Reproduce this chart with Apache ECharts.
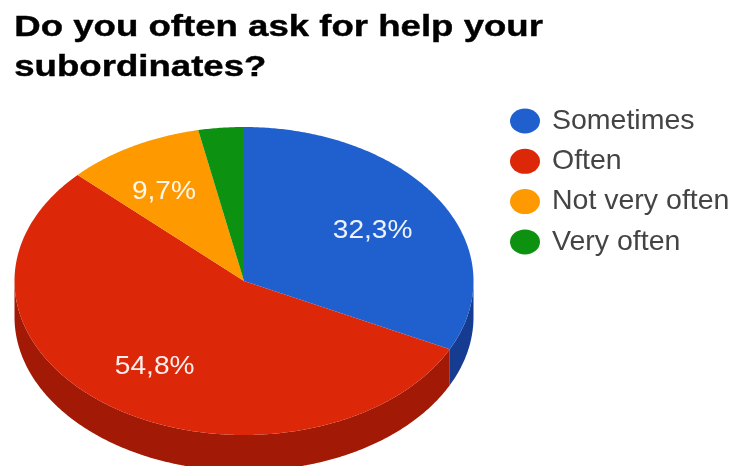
<!DOCTYPE html>
<html>
<head>
<meta charset="utf-8">
<style>html,body{margin:0;padding:0;background:#fff;overflow:hidden}#chart{width:732px;height:466px}</style>
<script src="https://cdn.jsdelivr.net/npm/echarts@6/dist/echarts.min.js"></script>
</head>
<body>
<div id="chart"></div>
<script>
// Survey answers, share of respondents in percent
const categories = ['Sometimes', 'Often', 'Not very often', 'Very often'];
const shares = [32.3, 54.8, 9.7, 3.2];
const topColors = ['#205fce', '#dc2709', '#ff9900', '#0c9210'];
const sideColors = ['#153c90', '#a21906', '#b36b00', '#086a0b'];
const titleLines = ['Do you often ask for help your', 'subordinates?'];

// Tilted-disc geometry
const CX = 244, CY = 281, RX = 229.5, RY = 154, DEPTH = 36;
// Label distance from the centre as a fraction of each radius, per slice
const LABEL_RADII = [[0.66, 0.64], [0.68, 0.66], [0.72, 0.68], [0, 0]];
const LABEL_MIN_SHARE = 5;

const total = shares.reduce((a, b) => a + b, 0);
const toAngle = v => v / total * 360;
const rimPoint = (deg, dy) => {
  const r = deg * Math.PI / 180;
  return [CX + RX * Math.sin(r), CY - RY * Math.cos(r) + (dy || 0)];
};
const arc = (from, to, dy) => {
  const pts = [];
  for (let a = from; a < to; a += 0.5) pts.push(rimPoint(a, dy));
  pts.push(rimPoint(to, dy));
  return pts;
};

const series = categories.map((name, i) => {
  const start = toAngle(shares.slice(0, i).reduce((a, b) => a + b, 0));
  const end = start + toAngle(shares[i]);
  return {
    type: 'custom',
    name,
    coordinateSystem: 'none',
    silent: true,
    z: 2,
    itemStyle: { color: topColors[i] },
    data: [shares[i]],
    renderItem() {
      const children = [];
      // The visible rim is the lower half of the disc edge
      const wallFrom = Math.max(start, 90), wallTo = Math.min(end, 270);
      if (wallFrom < wallTo) {
        const upper = arc(wallFrom, wallTo, 0);
        const lower = arc(wallFrom, wallTo, DEPTH).reverse();
        children.push({
          type: 'polygon',
          shape: { points: upper.concat(lower) },
          style: { fill: sideColors[i] }
        });
      }
      children.push({
        type: 'polygon',
        shape: { points: [[CX, CY]].concat(arc(start, end, 0)) },
        style: { fill: topColors[i] }
      });
      if (shares[i] >= LABEL_MIN_SHARE) {
        const mid = (start + end) / 2 * Math.PI / 180;
        children.push({
          type: 'text',
          x: CX + RX * LABEL_RADII[i][0] * Math.sin(mid),
          y: CY - RY * LABEL_RADII[i][1] * Math.cos(mid) + 2,
          style: {
            text: shares[i].toFixed(1).replace('.', ',') + '%',
            fill: '#fff',
            font: '26px "Liberation Sans", Arial, sans-serif',
            align: 'center',
            verticalAlign: 'middle',
            opacity: 0.92
          },
          scaleX: 1.08
        });
      }
      return { type: 'group', children };
    }
  };
});

const chart = echarts.init(document.getElementById('chart'), null, { renderer: 'canvas' });
chart.setOption({
  animation: false,
  backgroundColor: '#fff',
  legend: {
    orient: 'vertical',
    left: 505,
    top: 101.5,
    itemWidth: 30,
    itemHeight: 25,
    itemGap: 11.3,
    selectedMode: false,
    symbolKeepAspect: false,
    icon: 'path://M0,50 A50,50 0 1 1 100,50 A50,50 0 1 1 0,50 Z',
    data: categories,
    textStyle: {
      color: '#444',
      fontFamily: '"Liberation Sans", Arial, sans-serif',
      fontSize: 28.5,
      padding: [0, 0, 0, 7]
    }
  },
  graphic: titleLines.map((text, i) => ({
    type: 'text',
    left: 14,
    top: 13 + i * 40,
    scaleX: 1.22,
    style: {
      text,
      fill: '#000',
      stroke: '#000',
      lineWidth: 0.4,
      font: 'bold 30px "Liberation Sans", Arial, sans-serif'
    }
  })),
  series
});
</script>
</body>
</html>
